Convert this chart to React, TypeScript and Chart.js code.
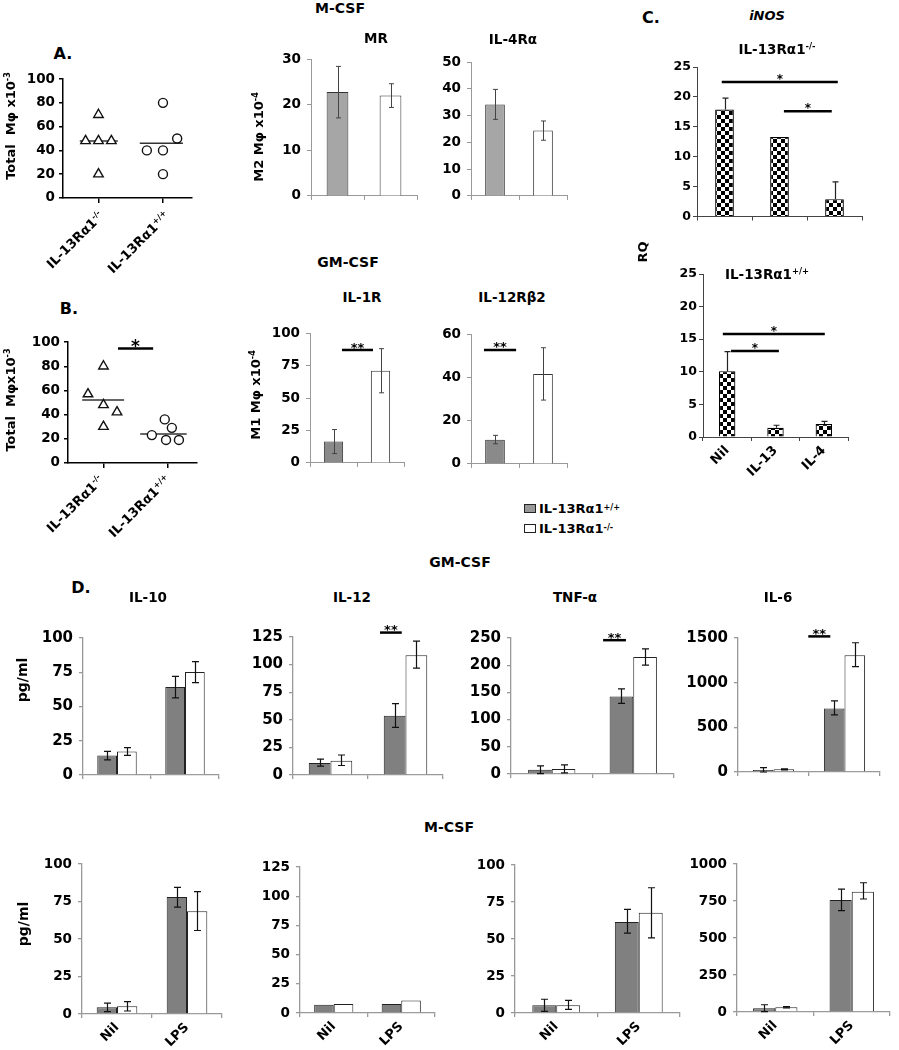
import React, { useEffect, useRef } from 'react';
import { Chart, registerables } from 'chart.js';
Chart.register(...registerables);

const FONT = '"DejaVu Sans", "Liberation Sans", Arial, sans-serif';
Chart.defaults.font.family = FONT;
Chart.defaults.color = '#000';

// ---------------- data ----------------
const genotypeBase = 'IL-13Rα1';
const genotypeSup = ['-/-', '+/+'];

// Panel A (total macrophages, x10^-3)
const aKo = [70, 48, 48, 48, 20];
const aKoJitter = [0, -0.2, 0, 0.2, 0];
const aWt = [80, 40, 40, 50, 20];
const aWtJitter = [0, -0.25, 0, 0.22, 0];
const aMedian = [48, 46];

// Panel B
const bKo = [80, 57, 48, 42, 30];
const bKoJitter = [0, -0.24, 0, 0.21, 0];
const bWt = [36, 29, 23, 19, 19];
const bWtJitter = [-0.05, 0.06, -0.25, -0.03, 0.17];
const bMedian = [52, 24];

// Receptor bars [+/+, -/-]
const mrMean = [22.8, 22.0];
const mrHi = [28.4, 24.6];
const mrLo = [17.1, 19.4];
const il4raMean = [34.2, 24.4];
const il4raHi = [39.8, 28.0];
const il4raLo = [28.6, 20.8];
const il1rMean = [16.5, 71.0];
const il1rHi = [25.7, 88.0];
const il1rLo = [7.2, 54.0];
const il12rb2Mean = [11.2, 41.6];
const il12rb2Hi = [13.2, 53.7];
const il12rb2Lo = [9.3, 29.5];

// Panel C iNOS RQ
const inosCats = ['Nil', 'IL-13', 'IL-4'];
const inosKo = [17.9, 13.3, 2.9];
const inosKoHi = [19.8, null, 5.8];
const inosWt = [10.1, 1.4, 2.0];
const inosWtHi = [13.1, 1.8, 2.4];

// Panel D cytokines (pg/ml) [Nil, LPS]
const stimCats = ['Nil', 'LPS'];
const gmIl10Wt = [14.3, 64.2], gmIl10WtHi = [17.3, 72.0], gmIl10WtLo = [11.0, 56.3];
const gmIl10Ko = [17.2, 75.2], gmIl10KoHi = [20.0, 82.8], gmIl10KoLo = [14.3, 67.4];
const gmIl12Wt = [10.9, 53.7], gmIl12WtHi = [14.4, 64.7], gmIl12WtLo = [8.0, 43.1];
const gmIl12Ko = [13.0, 108.5], gmIl12KoHi = [18.1, 121.3], gmIl12KoLo = [8.6, 96.8];
const gmTnfWt = [7.6, 142.4], gmTnfWtHi = [15.0, 156.4], gmTnfWtLo = [0.6, 129.7];
const gmTnfKo = [9.3, 215.0], gmTnfKoHi = [16.9, 230.0], gmTnfKoLo = [2.0, 200.0];
const gmIl6Wt = [21, 711], gmIl6WtHi = [50, 796], gmIl6WtLo = [0, 640];
const gmIl6Ko = [30, 1308], gmIl6KoHi = [36, 1447], gmIl6KoLo = [24, 1180];
const mIl10Wt = [4.5, 78.0], mIl10WtHi = [7.3, 84.5], mIl10WtLo = [1.6, 71.3];
const mIl10Ko = [5.1, 68.6], mIl10KoHi = [8.2, 81.7], mIl10KoLo = [2.0, 55.7];
const mIl12Wt = [7.1, 7.7];
const mIl12Ko = [7.7, 10.8];
const mTnfWt = [5.2, 61.6], mTnfWtHi = [9.3, 70.0], mTnfWtLo = [1.1, 54.0];
const mTnfKo = [5.2, 67.7], mTnfKoHi = [8.6, 84.7], mTnfKoLo = [2.5, 50.8];
const mIl6Wt = [24.7, 757], mIl6WtHi = [49, 831], mIl6WtLo = [2, 685];
const mIl6Ko = [31.5, 813], mIl6KoHi = [36, 874], mIl6KoLo = [27, 764];

// ---------------- helpers ----------------
type Geom = { L: number; T: number; R: number; B: number; yW: number; xH: number; pt: number; pr: number };
function geo(L, T, R, B, yW = 50, xH = 8, pt = 12, pr = 8): Geom {
  return { L, T, R, B, yW, xH, pt, pr };
}

function annot(errs: any[], sigs: any[], st: any) {
  return {
    id: 'annot',
    afterDatasetsDraw(chart: any) {
      const ctx = chart.ctx;
      const xs = chart.scales.x;
      const ys = chart.scales.y;
      ctx.save();
      errs.forEach((e) => {
        chart.getDatasetMeta(e.ds).data.forEach((el: any, i: number) => {
          const hi = e.hi[i];
          const lo = e.lo[i];
          if (hi == null || lo == null) return;
          const px = Math.round(el.x) + 0.5;
          const yh = ys.getPixelForValue(hi);
          const yl = ys.getPixelForValue(lo);
          ctx.strokeStyle = st.color;
          ctx.lineWidth = st.lw;
          ctx.beginPath();
          ctx.moveTo(px, yh);
          ctx.lineTo(px, yl);
          ctx.moveTo(px - st.cap, yh);
          ctx.lineTo(px + st.cap, yh);
          if (!st.plusOnly) {
            ctx.moveTo(px - st.cap, yl);
            ctx.lineTo(px + st.cap, yl);
          }
          ctx.stroke();
        });
      });
      sigs.forEach((s) => {
        const x0 = xs.getPixelForValue(s.x0);
        const x1 = xs.getPixelForValue(s.x1);
        const py = ys.getPixelForValue(s.y);
        ctx.strokeStyle = '#000';
        ctx.lineWidth = st.sigW;
        ctx.beginPath();
        ctx.moveTo(x0, py);
        ctx.lineTo(x1, py);
        ctx.stroke();
        ctx.fillStyle = '#000';
        ctx.font = `bold ${st.star}px ${FONT}`;
        ctx.textAlign = 'center';
        ctx.textBaseline = 'alphabetic';
        ctx.fillText(s.t, (x0 + x1) / 2, py - 3 + st.star * 0.35);
      });
      ctx.restore();
    },
  };
}

function baseOptions(geom: Geom, scales: any) {
  return {
    responsive: false,
    maintainAspectRatio: false,
    animation: false,
    events: [],
    layout: { padding: { top: geom.pt, right: geom.pr, left: 0, bottom: 0 } },
    plugins: { legend: { display: false }, tooltip: { enabled: false }, title: { display: false } },
    scales,
  };
}

function yScale(geom: Geom, max: number, step: number, size: number, color: string, pad: number, bw = 1) {
  return {
    type: 'linear',
    min: 0,
    max,
    ticks: { stepSize: step, padding: pad, color: '#000', font: { size, weight: 'bold', family: FONT }, callback: (v: any) => String(v) },
    grid: { drawOnChartArea: false, drawTicks: true, tickLength: 4, color, lineWidth: bw },
    border: { display: true, color, width: bw },
    afterFit: (s: any) => {
      s.width = geom.yW;
    },
  };
}

function xCat(geom: Geom, color: string, labelSize = 0, bw = 1) {
  return {
    type: 'category',
    offset: true,
    grid: { offset: true, drawOnChartArea: false, drawTicks: true, tickLength: 4, color, lineWidth: bw },
    border: { display: true, color, width: bw },
    ticks: labelSize
      ? { display: true, autoSkip: false, minRotation: 45, maxRotation: 45, padding: 2, color: '#000', font: { size: labelSize, weight: 'bold', family: FONT } }
      : { display: false },
    afterFit: (s: any) => {
      s.height = geom.xH;
    },
  };
}

function checker(ctx: CanvasRenderingContext2D, size = 4) {
  const c = document.createElement('canvas');
  c.width = size * 2;
  c.height = size * 2;
  const g2 = c.getContext('2d') as CanvasRenderingContext2D;
  g2.fillStyle = '#fff';
  g2.fillRect(0, 0, size * 2, size * 2);
  g2.fillStyle = '#000';
  g2.fillRect(0, 0, size, size);
  g2.fillRect(size, size, size, size);
  return ctx.createPattern(c, 'repeat');
}

function scatterBuild(geom: Geom, ko, koJ, wt, wtJ, med, medSpan, sigs) {
  return () => ({
    type: 'scatter',
    data: {
      datasets: [
        { data: ko.map((v, i) => ({ x: 1 + koJ[i], y: v })), pointStyle: 'triangle', pointRadius: 5.5, backgroundColor: '#fff', borderColor: '#111', borderWidth: 1.4 },
        { data: wt.map((v, i) => ({ x: 2 + wtJ[i], y: v })), pointStyle: 'circle', pointRadius: 4.5, backgroundColor: '#fff', borderColor: '#111', borderWidth: 1.4 },
        { data: [{ x: 1 + medSpan[0][0], y: med[0] }, { x: 1 + medSpan[0][1], y: med[0] }], showLine: true, pointRadius: 0, borderColor: '#333', borderWidth: 1.5 },
        { data: [{ x: 2 + medSpan[1][0], y: med[1] }, { x: 2 + medSpan[1][1], y: med[1] }], showLine: true, pointRadius: 0, borderColor: '#333', borderWidth: 1.5 },
      ],
    },
    options: baseOptions(geom, {
      x: {
        type: 'linear',
        min: 0.45,
        max: 2.45,
        afterBuildTicks: (s: any) => {
          s.ticks = [{ value: 1 }, { value: 2 }];
        },
        ticks: { display: false },
        grid: { drawOnChartArea: false, drawTicks: true, tickLength: 5, color: '#000', lineWidth: 1.5 },
        border: { display: true, color: '#000', width: 1.5 },
        afterFit: (s: any) => {
          s.height = geom.xH;
        },
      },
      y: yScale(geom, 100, 20, 13.5, '#000', 4, 1.5),
    }),
    plugins: [annot([], sigs, { cap: 0, color: '#000', lw: 1, sigW: 2.5, star: 17 })],
  });
}

function pairBuild(geom: Geom, mean, hi, lo, max, step, gray, sigs) {
  return () => ({
    type: 'bar',
    data: {
      labels: genotypeSup.slice().reverse(),
      datasets: [{ data: mean, backgroundColor: [gray, '#fff'], borderColor: '#333', borderWidth: 1, barPercentage: 0.41, categoryPercentage: 1 }],
    },
    options: baseOptions(geom, { x: xCat(geom, '#999'), y: yScale(geom, max, step, 13.5, '#999', 6) }),
    plugins: [annot([{ ds: 0, hi, lo }], sigs, { cap: 2.5, color: '#444', lw: 1, sigW: 2.5, star: 13 })],
  });
}

function inosBuild(geom: Geom, vals, hi, sigs, labelSize) {
  return (ctx: CanvasRenderingContext2D) => ({
    type: 'bar',
    data: {
      labels: inosCats,
      datasets: [{ data: vals, backgroundColor: checker(ctx), borderColor: '#000', borderWidth: 1.2, barPercentage: 0.34, categoryPercentage: 1 }],
    },
    options: baseOptions(geom, { x: xCat(geom, '#444', labelSize), y: yScale(geom, 25, 5, 12.5, '#444', 2) }),
    plugins: [annot([{ ds: 0, hi, lo: vals }], sigs, { cap: 3, color: '#222', lw: 1.2, sigW: 2.5, star: 12, plusOnly: true })],
  });
}

function cytoBuild(geom: Geom, max, step, tickSize, labelSize, wt, wtHi, wtLo, ko, koHi, koLo, sigs) {
  return () => ({
    type: 'bar',
    data: {
      labels: stimCats,
      datasets: [
        { data: wt, backgroundColor: '#808080', borderColor: '#222', borderWidth: 1, barPercentage: 1, categoryPercentage: 0.58 },
        { data: ko, backgroundColor: '#fff', borderColor: '#222', borderWidth: 1, barPercentage: 1, categoryPercentage: 0.58 },
      ],
    },
    options: baseOptions(geom, { x: xCat(geom, '#999', labelSize, 1.3), y: yScale(geom, max, step, tickSize, '#999', 6, 1.3) }),
    plugins: [
      annot(
        wtHi ? [{ ds: 0, hi: wtHi, lo: wtLo }, { ds: 1, hi: koHi, lo: koLo }] : [],
        sigs,
        { cap: 3.5, color: '#111', lw: 1.2, sigW: 2.5, star: 13 }
      ),
    ],
  });
}

function Plot({ geom, build }: { geom: Geom; build: any }) {
  const ref = useRef<HTMLCanvasElement>(null);
  const w = geom.R - geom.L + geom.yW + geom.pr;
  const h = geom.B - geom.T + geom.pt + geom.xH;
  useEffect(() => {
    const cv = ref.current as HTMLCanvasElement;
    const chart = new Chart(cv, build(cv.getContext('2d')) as any);
    return () => chart.destroy();
  }, []);
  return (
    <canvas
      ref={ref}
      width={w}
      height={h}
      style={{ position: 'absolute', left: geom.L - geom.yW, top: geom.T - geom.pt, width: w, height: h, display: 'block' }}
    />
  );
}

function Sup({ children }: any) {
  return <span style={{ fontSize: '0.62em', verticalAlign: '0.6em', lineHeight: 0 }}>{children}</span>;
}

function Txt({ x, y, size = 13, rot = 0, italic = false, children }: any) {
  return (
    <div
      style={{
        position: 'absolute',
        left: x,
        top: y,
        transform: `translate(-50%,-50%) rotate(${rot}deg)`,
        font: `${italic ? 'italic ' : ''}bold ${size}px ${FONT}`,
        whiteSpace: 'nowrap',
        lineHeight: 1,
        color: '#000',
      }}
    >
      {children}
    </div>
  );
}

function RotLabel({ x, y, size = 13, children }: any) {
  return (
    <div
      style={{
        position: 'absolute',
        right: 899 - x,
        top: y - size / 2,
        transformOrigin: '100% 50%',
        transform: 'rotate(-45deg)',
        font: `bold ${size}px ${FONT}`,
        whiteSpace: 'nowrap',
        lineHeight: 1,
        color: '#000',
      }}
    >
      {children}
    </div>
  );
}

// ---------------- geometry ----------------
const gA = geo(63, 79, 192, 202, 50, 8, 12, 8);
const gB = geo(68, 342, 197, 467, 50, 8, 12, 8);
const gMR = geo(311, 57, 417, 202, 50, 8, 12, 6);
const gIL4 = geo(471, 60, 567, 202, 50, 8, 12, 6);
const gIL1R = geo(310, 331, 404, 469, 50, 8, 12, 6);
const gIL12R = geo(471, 332, 567, 470, 50, 8, 12, 6);
const gC1 = geo(697, 67, 862, 218, 40, 8, 12, 8);
const gC2 = geo(703, 274, 848, 437, 40, 45, 12, 8);
const gD1 = geo(83, 637, 219, 782, 60, 8, 14, 6);
const gD2 = geo(293, 637, 443, 782, 60, 8, 25, 6);
const gD3 = geo(511, 638, 674, 781, 60, 8, 22, 6);
const gD4 = geo(738, 638, 880, 779, 60, 8, 22, 6);
const gE1 = geo(82, 864, 222, 1014, 60, 34, 14, 6);
const gE2 = geo(300, 867, 435, 1013, 60, 34, 14, 6);
const gE3 = geo(515, 865, 680, 1013, 60, 34, 14, 6);
const gE4 = geo(737, 864, 890, 1012, 60, 34, 14, 4);

const GT = (s: string) => (
  <>
    {genotypeBase}
    <Sup>{s}</Sup>
  </>
);

export default function App() {
  return (
    <div style={{ position: 'absolute', left: 0, top: 0, width: 899, height: 1050, background: '#fff', overflow: 'hidden', fontFamily: FONT }}>
      <Plot geom={gA} build={scatterBuild(gA, aKo, aKoJitter, aWt, aWtJitter, aMedian, [[-0.29, 0.3], [-0.36, 0.31]], [])} />
      <Plot geom={gB} build={scatterBuild(gB, bKo, bKoJitter, bWt, bWtJitter, bMedian, [[-0.33, 0.32], [-0.43, 0.29]], [{ x0: 1.225, x1: 1.77, y: 94.6, t: '*' }])} />

      <Plot geom={gMR} build={pairBuild(gMR, mrMean, mrHi, mrLo, 30, 10, '#a6a6a6', [])} />
      <Plot geom={gIL4} build={pairBuild(gIL4, il4raMean, il4raHi, il4raLo, 50, 10, '#a6a6a6', [])} />
      <Plot geom={gIL1R} build={pairBuild(gIL1R, il1rMean, il1rHi, il1rLo, 100, 25, '#8a8a8a', [{ x0: 0.18, x1: 0.84, y: 87, t: '**' }])} />
      <Plot geom={gIL12R} build={pairBuild(gIL12R, il12rb2Mean, il12rb2Hi, il12rb2Lo, 60, 20, '#8a8a8a', [{ x0: -0.23, x1: 0.44, y: 52.7, t: '**' }])} />

      <Plot geom={gC1} build={inosBuild(gC1, inosKo, inosKoHi, [{ x0: -0.05, x1: 2.06, y: 22.5, t: '*' }, { x0: 1.08, x1: 1.95, y: 17.6, t: '*' }], 0)} />
      <Plot geom={gC2} build={inosBuild(gC2, inosWt, inosWtHi, [{ x0: -0.09, x1: 2.02, y: 15.8, t: '*' }, { x0: 0.08, x1: 1.07, y: 13.2, t: '*' }], 13)} />

      <Plot geom={gD1} build={cytoBuild(gD1, 100, 25, 15, 0, gmIl10Wt, gmIl10WtHi, gmIl10WtLo, gmIl10Ko, gmIl10KoHi, gmIl10KoLo, [])} />
      <Plot geom={gD2} build={cytoBuild(gD2, 125, 25, 15, 0, gmIl12Wt, gmIl12WtHi, gmIl12WtLo, gmIl12Ko, gmIl12KoHi, gmIl12KoLo, [{ x0: 0.66, x1: 0.95, y: 129, t: '**' }])} />
      <Plot geom={gD3} build={cytoBuild(gD3, 250, 50, 15, 0, gmTnfWt, gmTnfWtHi, gmTnfWtLo, gmTnfKo, gmTnfKoHi, gmTnfKoLo, [{ x0: 0.63, x1: 0.91, y: 246, t: '**' }])} />
      <Plot geom={gD4} build={cytoBuild(gD4, 1500, 500, 15, 0, gmIl6Wt, gmIl6WtHi, gmIl6WtLo, gmIl6Ko, gmIl6KoHi, gmIl6KoLo, [{ x0: 0.49, x1: 0.8, y: 1518, t: '**' }])} />

      <Plot geom={gE1} build={cytoBuild(gE1, 100, 25, 13.5, 13, mIl10Wt, mIl10WtHi, mIl10WtLo, mIl10Ko, mIl10KoHi, mIl10KoLo, [])} />
      <Plot geom={gE2} build={cytoBuild(gE2, 125, 25, 13.5, 13, mIl12Wt, null, null, mIl12Ko, null, null, [])} />
      <Plot geom={gE3} build={cytoBuild(gE3, 100, 25, 13.5, 13, mTnfWt, mTnfWtHi, mTnfWtLo, mTnfKo, mTnfKoHi, mTnfKoLo, [])} />
      <Plot geom={gE4} build={cytoBuild(gE4, 1000, 250, 13.5, 13, mIl6Wt, mIl6WtHi, mIl6WtLo, mIl6Ko, mIl6KoHi, mIl6KoLo, [])} />

      {/* panel letters and headings */}
      <Txt x={63} y={54} size={16}>A.</Txt>
      <Txt x={69} y={309} size={16}>B.</Txt>
      <Txt x={651} y={18} size={16}>C.</Txt>
      <Txt x={81} y={588} size={16}>D.</Txt>

      <Txt x={340} y={8} size={14}>M-CSF</Txt>
      <Txt x={376} y={39} size={13.5}>MR</Txt>
      <Txt x={513} y={40} size={13.5}>IL-4Rα</Txt>
      <Txt x={258} y={137} size={13} rot={-90}>M2 Mφ x10<Sup>-4</Sup></Txt>

      <Txt x={348} y={262} size={14}>GM-CSF</Txt>
      <Txt x={362} y={298} size={13.5}>IL-1R</Txt>
      <Txt x={512} y={298} size={13.5}>IL-12Rβ2</Txt>
      <Txt x={255} y={395} size={13} rot={-90}>M1 Mφ x10<Sup>-4</Sup></Txt>

      <Txt x={10} y={126} size={13} rot={-90}>Total &nbsp;Mφ x10<Sup>-3</Sup></Txt>
      <Txt x={10} y={400} size={13} rot={-90}>Total &nbsp;Mφx10<Sup>-3</Sup></Txt>
      <RotLabel x={101} y={213}>{GT(genotypeSup[0])}</RotLabel>
      <RotLabel x={167} y={213}>{GT(genotypeSup[1])}</RotLabel>
      <RotLabel x={101} y={477}>{GT(genotypeSup[0])}</RotLabel>
      <RotLabel x={168} y={477}>{GT(genotypeSup[1])}</RotLabel>

      <Txt x={767} y={15} size={13} italic>iNOS</Txt>
      <Txt x={777} y={50} size={13.5}>{GT(genotypeSup[0])}</Txt>
      <Txt x={767} y={275} size={13.5}>{GT(genotypeSup[1])}</Txt>
      <Txt x={642} y={252} size={13} rot={-90}>RQ</Txt>

      {/* legend */}
      <div style={{ position: 'absolute', left: 524, top: 498, font: `bold 13px ${FONT}`, lineHeight: 1 }}>
        <div style={{ display: 'flex', alignItems: 'center', height: 20 }}>
          <span style={{ display: 'inline-block', width: 10, height: 7, background: '#999', border: '1.5px solid #222', marginRight: 3 }} />
          {GT(genotypeSup[1])}
        </div>
        <div style={{ display: 'flex', alignItems: 'center', height: 20 }}>
          <span style={{ display: 'inline-block', width: 10, height: 7, background: '#fff', border: '1.5px solid #222', marginRight: 3 }} />
          {GT(genotypeSup[0])}
        </div>
      </div>

      <Txt x={460} y={562} size={14}>GM-CSF</Txt>
      <Txt x={148} y={598} size={13.5}>IL-10</Txt>
      <Txt x={352} y={598} size={13.5}>IL-12</Txt>
      <Txt x={575} y={598} size={13.5}>TNF-α</Txt>
      <Txt x={778} y={598} size={13.5}>IL-6</Txt>
      <Txt x={22} y={680} size={14} rot={-90}>pg/ml</Txt>

      <Txt x={449} y={827} size={14}>M-CSF</Txt>
      <Txt x={23} y={924} size={14} rot={-90}>pg/ml</Txt>
    </div>
  );
}
